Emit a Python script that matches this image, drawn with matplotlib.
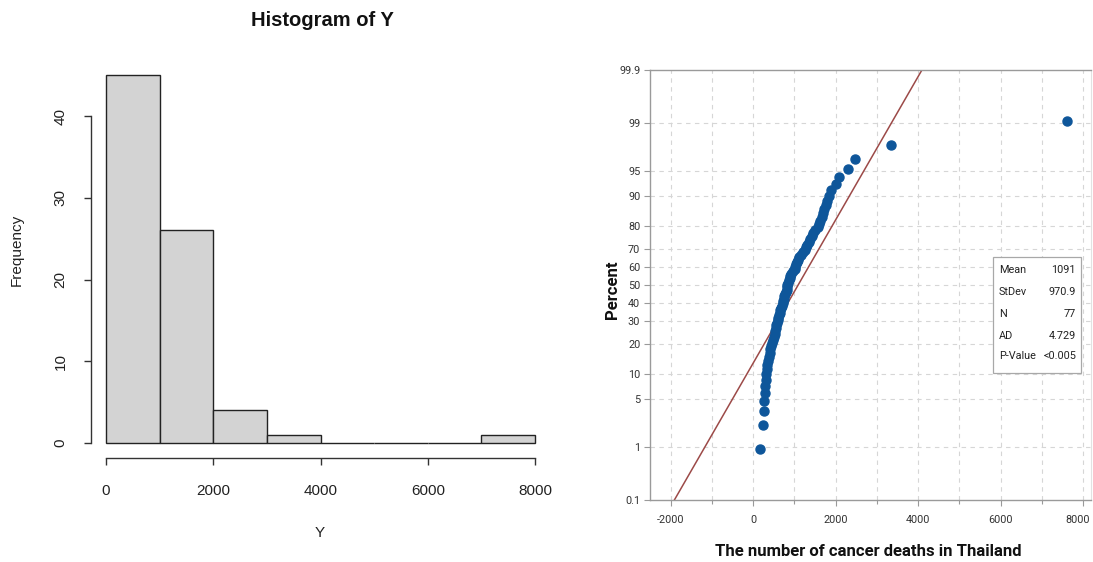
import matplotlib
matplotlib.use('Agg')
import matplotlib.pyplot as plt
import matplotlib.transforms as mtransforms
from statistics import NormalDist

# ---------------- data ----------------
Y = [170, 236, 260, 275, 285, 295, 305, 318, 330, 345,
     365, 385, 400, 412, 440, 462, 480, 500, 520, 535,
     548, 560, 578, 592, 610, 628, 645, 660, 675, 695,
     712, 730, 745, 760, 775, 795, 815, 820, 825, 835,
     870, 885, 905, 930, 960, 1005, 1025, 1045, 1065, 1085,
     1110, 1150, 1200, 1250, 1280, 1310, 1350, 1390, 1420, 1460,
     1510, 1570, 1600, 1620, 1660, 1700, 1720, 1760, 1790, 1850,
     1880, 2010, 2070, 2290, 2460, 3330, 7615]

hist_breaks = [0, 1000, 2000, 3000, 4000, 5000, 6000, 7000, 8000]
hist_xticks = [0, 2000, 4000, 6000, 8000]
hist_yticks = [0, 10, 20, 30, 40]

pct_ticks = [0.1, 1, 5, 10, 20, 30, 40, 50, 60, 70, 80, 90, 95, 99, 99.9]
pct_labels = ['0.1', '1', '5', '10', '20', '30', '40', '50', '60', '70',
              '80', '90', '95', '99', '99.9']
pp_xticks = [-2000, 0, 2000, 4000, 6000, 8000]
pp_xgrid = [-2000, -1000, 0, 1000, 2000, 3000, 4000, 5000, 6000, 7000, 8000]

stat_names = ['Mean', 'StDev', 'N', 'AD', 'P-Value']
stat_values = ['1091', '970.9', '77', '4.729', '<0.005']
fit_mean = 1091
fit_sd = 970.9

# ---------------- figure ----------------
W, H = 1093, 562
fig = plt.figure(figsize=(W / 100, H / 100), dpi=100)

def fbox(l, t, r, b):
    return [l / W, 1 - b / H, (r - l) / W, (b - t) / H]

# ---------- left: R style histogram ----------
rfont = ['Liberation Sans', 'DejaVu Sans']
ax1 = fig.add_axes(fbox(91, 70, 550, 458))
ax1.hist(Y, bins=hist_breaks, color='#D3D3D3', edgecolor='#222222', linewidth=1.0)
# pixel mapping: x 106->0, 535->8000 ; y 443->0, 116->40
xpp = (535 - 106) / 8000.0
ax1.set_xlim(-(106 - 91) / xpp, 8000 + (550 - 535) / xpp)
ypp = (443 - 116) / 40.0
ax1.set_ylim(-(458 - 443) / ypp, 40 + (116 - 70) / ypp)
for s in ['top', 'right']:
    ax1.spines[s].set_visible(False)
ax1.spines['left'].set_bounds(0, 40)
ax1.spines['bottom'].set_bounds(0, 8000)
for s in ['left', 'bottom']:
    ax1.spines[s].set_color('#333333')
    ax1.spines[s].set_linewidth(1.0)
ax1.set_xticks(hist_xticks)
ax1.set_yticks(hist_yticks)
ax1.set_xticklabels([str(v) for v in hist_xticks], fontfamily=rfont, fontsize=11, color='#222222')
ax1.set_yticklabels([str(v) for v in hist_yticks], fontfamily=rfont, fontsize=11,
                    rotation=90, va='center', color='#222222')
ax1.tick_params(axis='both', length=5, width=1.0, color='#333333')
ax1.tick_params(axis='x', pad=14)
ax1.tick_params(axis='y', pad=12)
fig.text(322 / W, 1 - 20 / H, 'Histogram of Y', ha='center', va='center',
         fontfamily=rfont, fontsize=14.5, fontweight='bold', color='#111111')
fig.text(320 / W, 1 - 533 / H, 'Y', ha='center', va='center',
         fontfamily=rfont, fontsize=11, color='#222222')
fig.text(17 / W, 1 - 250 / H, 'Frequency', ha='center', va='center', rotation=90,
         fontfamily=rfont, fontsize=11, color='#222222')

# ---------- right: Minitab style normal probability plot ----------
mfont = ['Liberation Sans Narrow', 'Roboto', 'DejaVu Sans']
nd = NormalDist()
ax2 = fig.add_axes(fbox(650, 70, 1091, 500))
zlo = nd.inv_cdf(0.001)
zhi = nd.inv_cdf(0.999)
ax2.set_ylim(zlo, zhi)
ax2.set_xlim(-2500, 8190)

for gx in pp_xgrid:
    ax2.axvline(gx, color='#d6d6d6', lw=0.8, ls=(0, (4, 4)), zorder=0)
for p in pct_ticks[1:-1]:
    ax2.axhline(nd.inv_cdf(p / 100.0), color='#d6d6d6', lw=0.8, ls=(0, (4, 4)), zorder=0)

# fitted normal line from the reported mean / stdev
fx = [fit_mean + fit_sd * zlo, fit_mean + fit_sd * zhi]
ax2.plot(fx, [zlo, zhi], color='#9C4A48', lw=1.1, zorder=2, clip_on=True)

n = len(Y)
ys = sorted(Y)
pz = [nd.inv_cdf((i + 1 - 0.3) / (n + 0.4)) for i in range(n)]
ax2.plot(ys, pz, ls='none', marker='o', ms=6.5, color='#0E569A', mec='#0E569A', zorder=3)

ax2.set_yticks([nd.inv_cdf(p / 100.0) for p in pct_ticks])
ax2.set_yticklabels(pct_labels, fontfamily=mfont, fontsize=7.8, color='#333333')
ax2.set_xticks(pp_xticks)
ax2.set_xticklabels([str(v) for v in pp_xticks], fontfamily=mfont, fontsize=7.8, color='#333333')
ax2.set_xticks(pp_xgrid, minor=True)
ax2.tick_params(axis='both', which='major', length=4, width=0.8, color='#9a9a9a', pad=3)
ax2.tick_params(axis='x', which='major', pad=7)
ax2.tick_params(axis='x', which='minor', length=3, width=0.8, color='#9a9a9a')
# keep the last x label inside the figure
last_lbl = ax2.get_xticklabels()[-1]
last_lbl.set_transform(last_lbl.get_transform() +
                       mtransforms.ScaledTranslation(-6 / 100, 0, fig.dpi_scale_trans))
for s in ['left', 'bottom', 'top']:
    ax2.spines[s].set_color('#9a9a9a')
    ax2.spines[s].set_linewidth(1.0)
ax2.spines['right'].set_color('#e2e2e2')
ax2.spines['right'].set_linewidth(0.8)

fig.text(868 / W, 1 - 551 / H, 'The number of cancer deaths in Thailand', ha='center',
         va='center', fontfamily=mfont, fontsize=12, fontweight='bold', color='#111111')
fig.text(613 / W, 1 - 290 / H, 'Percent', ha='center', va='center', rotation=90,
         fontfamily=mfont, fontsize=12, fontweight='bold', color='#111111')

# statistics box
bx0, by0, bx1, by1 = 993, 257, 1081, 373
box = plt.Rectangle((bx0 / W, 1 - by1 / H), (bx1 - bx0) / W, (by1 - by0) / H,
                    transform=fig.transFigure, facecolor='white', edgecolor='#a8a8a8',
                    lw=0.9, zorder=5)
fig.add_artist(box)
row_y = [270, 292, 314, 336, 356]
for name, val, ry in zip(stat_names, stat_values, row_y):
    fig.text(999 / W, 1 - ry / H, name, ha='left', va='center', fontfamily=mfont,
             fontsize=7.8, color='#222222', zorder=6)
    fig.text(1076 / W, 1 - ry / H, val, ha='right', va='center', fontfamily=mfont,
             fontsize=7.8, color='#222222', zorder=6)

fig.savefig('out.png', dpi=100)
